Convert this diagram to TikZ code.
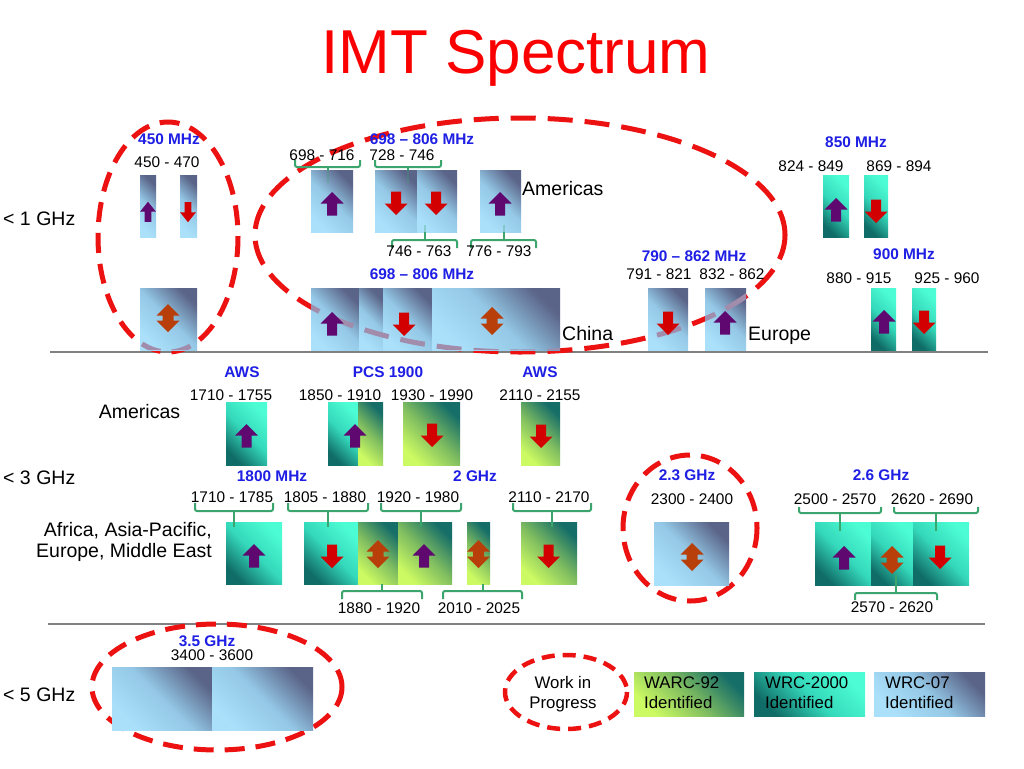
\documentclass[tikz,border=0pt]{standalone}
\usepackage{fontspec}
\setmainfont{Liberation Sans}
\definecolor{upcol}{RGB}{94,8,112}
\definecolor{dncol}{RGB}{210,0,0}
\definecolor{dbcol}{RGB}{184,62,10}
\definecolor{hblue}{RGB}{30,30,228}
\definecolor{dred}{RGB}{236,18,18}
\definecolor{titlered}{RGB}{250,0,0}
\definecolor{bgreen}{RGB}{60,165,110}
\definecolor{mdash}{RGB}{162,140,172}
\definecolor{sepgray}{RGB}{128,128,128}
\definecolor{blight}{RGB}{170,224,250}
\definecolor{bmid}{RGB}{148,200,230}
\definecolor{bdark}{RGB}{90,100,136}
\definecolor{tdark}{RGB}{16,108,102}
\definecolor{tmid}{RGB}{52,216,186}
\definecolor{tbright}{RGB}{76,252,212}
\definecolor{gyel}{RGB}{204,250,98}
\definecolor{gmid}{RGB}{126,188,96}
\definecolor{gdark}{RGB}{22,110,104}
\newcommand\spbox[5]{\shade[#5] (#1,#3) rectangle (#2,#4);}
\newcommand\spbrk[6]{%
  \draw[brk] (#1,#4) -- (#1,#3) -- (#2,#3) -- (#2,#4);
  \draw[brk] ({(#1+#2)/2},#3) -- ({(#1+#2)/2},#5);
  \draw[brk,opacity=0.3] ({(#1+#2)/2},#5) -- ({(#1+#2)/2},#6);}
\begin{document}
\begin{tikzpicture}[x=1pt,y=-1pt,
  num/.style={font=\fontsize{15.4}{17}\selectfont, inner sep=0pt, text height=11pt, text depth=0pt},
  head/.style={font=\fontsize{15.4}{17}\selectfont\bfseries, text=hblue, inner sep=0pt, text height=11pt, text depth=0pt},
  region/.style={font=\fontsize{19.5}{22}\selectfont, inner sep=0pt, text height=14pt, text depth=0pt},
  legtxt/.style={font=\fontsize{16.8}{19}\selectfont, inner sep=0pt, text height=12pt, text depth=0pt},
  titlestyle/.style={font=\fontsize{62}{70}\selectfont, text=titlered, inner sep=0pt, text height=44.5pt, text depth=0pt},
  wrcblue/.style={top color=bdark, bottom color=blight, middle color=bmid, shading angle=-45},
  wrcteal/.style={top color=tbright, bottom color=tdark, middle color=tmid, shading angle=-45},
  warcgreen/.style={top color=gdark, bottom color=gyel, middle color=gmid, shading angle=-45},
  ring/.style={draw=dred, line width=5pt, dash pattern=on 20pt off 11pt},
  ringbig/.style={draw=dred, line width=5pt, dash pattern=on 25pt off 12pt},
  ringsmall/.style={draw=dred, line width=4.5pt, dash pattern=on 13pt off 8pt},
  brk/.style={draw=bgreen, line width=2pt, rounded corners=2pt},
  sep/.style={draw=sepgray, line width=2pt},
  uparr/.pic={\fill[upcol] (0,-12) -- (11.5,-0.5) -- (5,-0.5) -- (5,11.5) -- (-5,11.5) -- (-5,-0.5) -- (-11.5,-0.5) -- cycle;},
  dnarr/.pic={\fill[dncol] (0,12) -- (11.5,0.5) -- (5,0.5) -- (5,-11.5) -- (-5,-11.5) -- (-5,0.5) -- (-11.5,0.5) -- cycle;},
  dbarr/.pic={\fill[dbcol] (0,-14) -- (11.5,-2.5) -- (5.5,-2.5) -- (5.5,2.5) -- (11.5,2.5) -- (0,14) -- (-11.5,2.5) -- (-5.5,2.5) -- (-5.5,-2.5) -- (-11.5,-2.5) -- cycle;}
]
\fill[white] (0,0) rectangle (1024,768);
\useasboundingbox (0,0) rectangle (1024,768);

% title
\node[titlestyle] (title) at (516,51) {IMT Spectrum};

% separators
\draw[sep] (50,352) -- (988,352);
\draw[sep] (48,624) -- (985,624);

% work-in-progress rings (under boxes)
\draw[ring] (168,237) ellipse [x radius=70, y radius=115];
\draw[ringbig] (520,235) ellipse [x radius=265, y radius=117];
\draw[ring] (690,528) ellipse [x radius=67, y radius=73];
\draw[ring] (217,687) ellipse [x radius=125, y radius=63];
\draw[ringsmall] (566,692) ellipse [x radius=61, y radius=37];

% ---- boxes row 1
\spbox{140}{156}{175}{237}{wrcblue}
\spbox{180}{197}{175}{237}{wrcblue}
\spbox{140}{197}{288}{350}{wrcblue}
\spbox{311}{353}{170}{232}{wrcblue}
\spbox{375}{417}{170}{232}{wrcblue}
\spbox{417}{457}{170}{232}{wrcblue}
\spbox{480}{521}{170}{232}{wrcblue}
\spbox{311}{359}{288}{350}{wrcblue}
\spbox{359}{383}{288}{350}{wrcblue}
\spbox{383}{432}{288}{350}{wrcblue}
\spbox{432}{560}{288}{350}{wrcblue}
\spbox{648}{688}{288}{350}{wrcblue}
\spbox{705}{746}{288}{350}{wrcblue}
\spbox{823}{849}{175}{237}{wrcteal}
\spbox{864}{888}{175}{237}{wrcteal}
\spbox{871}{896}{288}{350}{wrcteal}
\spbox{912}{936}{288}{350}{wrcteal}
% ---- boxes row 2
\spbox{226}{267}{402}{465}{wrcteal}
\spbox{328}{358}{402}{465}{wrcteal}
\spbox{358}{383}{402}{465}{warcgreen}
\spbox{403}{460}{402}{465}{warcgreen}
\spbox{521}{560}{402}{465}{warcgreen}
\spbox{226}{282}{522}{584}{wrcteal}
\spbox{304}{358}{522}{584}{wrcteal}
\spbox{358}{398}{522}{584}{warcgreen}
\spbox{398}{452}{522}{584}{warcgreen}
\spbox{467}{490}{522}{584}{warcgreen}
\spbox{521}{577}{522}{584}{warcgreen}
\spbox{654}{729}{522}{585}{wrcblue}
\spbox{815}{871}{522}{585}{wrcteal}
\spbox{871}{913}{522}{585}{wrcteal}
\spbox{913}{969}{522}{585}{wrcteal}
% ---- boxes row 3
\spbox{112}{212}{667}{730}{wrcblue}
\spbox{212}{313}{667}{730}{wrcblue}
% ---- legend boxes
\spbox{634}{744}{672}{716}{warcgreen}
\spbox{754}{865}{672}{716}{wrcteal}
\spbox{874}{985}{672}{716}{wrcblue}

% rings seen through the boxes
\begin{scope}
  \clip (140,288) rectangle (197,350) (311,288) rectangle (560,350)
        (648,288) rectangle (688,350) (705,288) rectangle (746,350);
  \draw[ring, draw=mdash] (168,237) ellipse [x radius=70, y radius=115];
  \draw[ringbig, draw=mdash] (520,235) ellipse [x radius=265, y radius=117];
\end{scope}

% ---- brackets
\spbrk{295}{360}{167}{160}{170}{183}
\spbrk{375}{441}{167}{160}{170}{183}
\spbrk{392}{457}{240}{248}{232}{225}
\spbrk{471}{536}{240}{248}{232}{225}
\spbrk{195}{273}{511}{503}{527}{527}
\spbrk{288}{368}{511}{503}{527}{527}
\spbrk{381}{461}{511}{503}{527}{527}
\spbrk{513}{591}{511}{503}{527}{527}
\spbrk{342}{422}{591}{599}{584}{584}
\spbrk{443}{522}{591}{599}{584}{584}
\spbrk{799}{881}{513}{507}{531}{531}
\spbrk{894}{978}{513}{507}{531}{531}
\spbrk{855}{937}{593}{600}{575}{575}

% ---- arrows row 1
\pic[xscale=0.68,yscale=0.85] at (148,212) {uparr};
\pic[xscale=0.68,yscale=0.85] at (188,212) {dnarr};
\pic at (168,318) {dbarr};
\pic at (332,204) {uparr};
\pic at (396,203) {dnarr};
\pic at (436,203) {dnarr};
\pic at (500,204) {uparr};
\pic at (332,324) {uparr};
\pic at (404,324) {dnarr};
\pic at (492,321) {dbarr};
\pic at (668,323) {dnarr};
\pic at (725,323) {uparr};
\pic at (836,210) {uparr};
\pic at (876,211) {dnarr};
\pic at (884,322) {uparr};
\pic at (924,322) {dnarr};
% ---- arrows row 2
\pic at (246.5,436) {uparr};
\pic at (355,436) {uparr};
\pic at (432,435) {dnarr};
\pic at (541,436) {dnarr};
\pic at (254,556) {uparr};
\pic at (332,556) {dnarr};
\pic at (378,554) {dbarr};
\pic at (424,556) {uparr};
\pic at (478.5,554) {dbarr};
\pic at (548.5,556) {dnarr};
\pic at (692,557) {dbarr};
\pic at (844,558) {uparr};
\pic at (892,560) {dbarr};
\pic at (940,557) {dnarr};

% ---- left labels
\node[region, anchor=west] (g1) at (3,218) {< 1 GHz};
\node[region, anchor=west] (g3) at (3,477) {< 3 GHz};
\node[region, anchor=west] (g5) at (3,694) {< 5 GHz};

% ---- row 1 texts
\node[head] (h450) at (169,139) {450 MHz};
\node[num] (n450) at (167,162) {450 - 470};
\node[head] (h698a) at (422,139) {698 – 806 MHz};
\node[num] (n698) at (322,155) {698 - 716};
\node[num] (n728) at (402,155) {728 - 746};
\node[region, anchor=west] (amer1) at (522,188) {Americas};
\node[num] (n746) at (419,251) {746 - 763};
\node[num] (n776) at (499,251) {776 - 793};
\node[head] (h698b) at (422,274) {698 – 806 MHz};
\node[region, anchor=west] (china) at (562,333) {China};
\node[head] (h790) at (694,256) {790 – 862 MHz};
\node[num] (n791) at (659,274) {791 - 821};
\node[num] (n832) at (732,274) {832 - 862};
\node[region, anchor=west] (europe) at (748,333) {Europe};
\node[head] (h850) at (856,142) {850 MHz};
\node[num] (n824) at (811,166) {824 - 849};
\node[num] (n869) at (899,166) {869 - 894};
\node[head] (h900) at (904,254) {900 MHz};
\node[num] (n880) at (859,278) {880 - 915};
\node[num] (n925) at (947,278) {925 - 960};

% ---- row 2 texts
\node[region] (amer2) at (139.5,411) {Americas};
\node[head] (aws1) at (242,372) {AWS};
\node[num] (n1710a) at (231,395) {1710 - 1755};
\node[head] (pcs) at (388,372) {PCS 1900};
\node[num] (n1850) at (340,395) {1850 - 1910};
\node[num] (n1930) at (432,395) {1930 - 1990};
\node[head] (aws2) at (540,372) {AWS};
\node[num] (n2110a) at (540,395) {2110 - 2155};
\node[head] (h1800) at (272,476) {1800 MHz};
\node[head] (h2g) at (475,476) {2 GHz};
\node[num] (n1710b) at (232,497) {1710 - 1785};
\node[num] (n1805) at (325,497) {1805 - 1880};
\node[num] (n1920) at (418,497) {1920 - 1980};
\node[num] (n2110b) at (549,497) {2110 - 2170};
\node[region, anchor=east] (afr1) at (212,529) {Africa, Asia-Pacific,};
\node[region, anchor=east] (afr2) at (212,550) {Europe, Middle East};
\node[num] (n1880) at (379,608) {1880 - 1920};
\node[num] (n2010) at (479,608) {2010 - 2025};
\node[head] (h23) at (687,475) {2.3 GHz};
\node[num] (n2300) at (692,499) {2300 - 2400};
\node[head] (h26) at (881,475) {2.6 GHz};
\node[num] (n2500) at (835,499) {2500 - 2570};
\node[num] (n2620) at (932,499) {2620 - 2690};
\node[num] (n2570) at (892,607) {2570 - 2620};

% ---- row 3 texts
\node[head] (h35) at (207,641) {3.5 GHz};
\node[num] (n3400) at (212,655) {3400 - 3600};

% ---- legend texts
\node[legtxt] (wip1) at (563,682) {Work in};
\node[legtxt] (wip2) at (563,702) {Progress};
\node[legtxt, anchor=west] (l1a) at (644,682) {WARC-92};
\node[legtxt, anchor=west] (l1b) at (644,702) {Identified};
\node[legtxt, anchor=west] (l2a) at (765,682) {WRC-2000};
\node[legtxt, anchor=west] (l2b) at (765,702) {Identified};
\node[legtxt, anchor=west] (l3a) at (885,682) {WRC-07};
\node[legtxt, anchor=west] (l3b) at (885,702) {Identified};
\end{tikzpicture}
\end{document}
